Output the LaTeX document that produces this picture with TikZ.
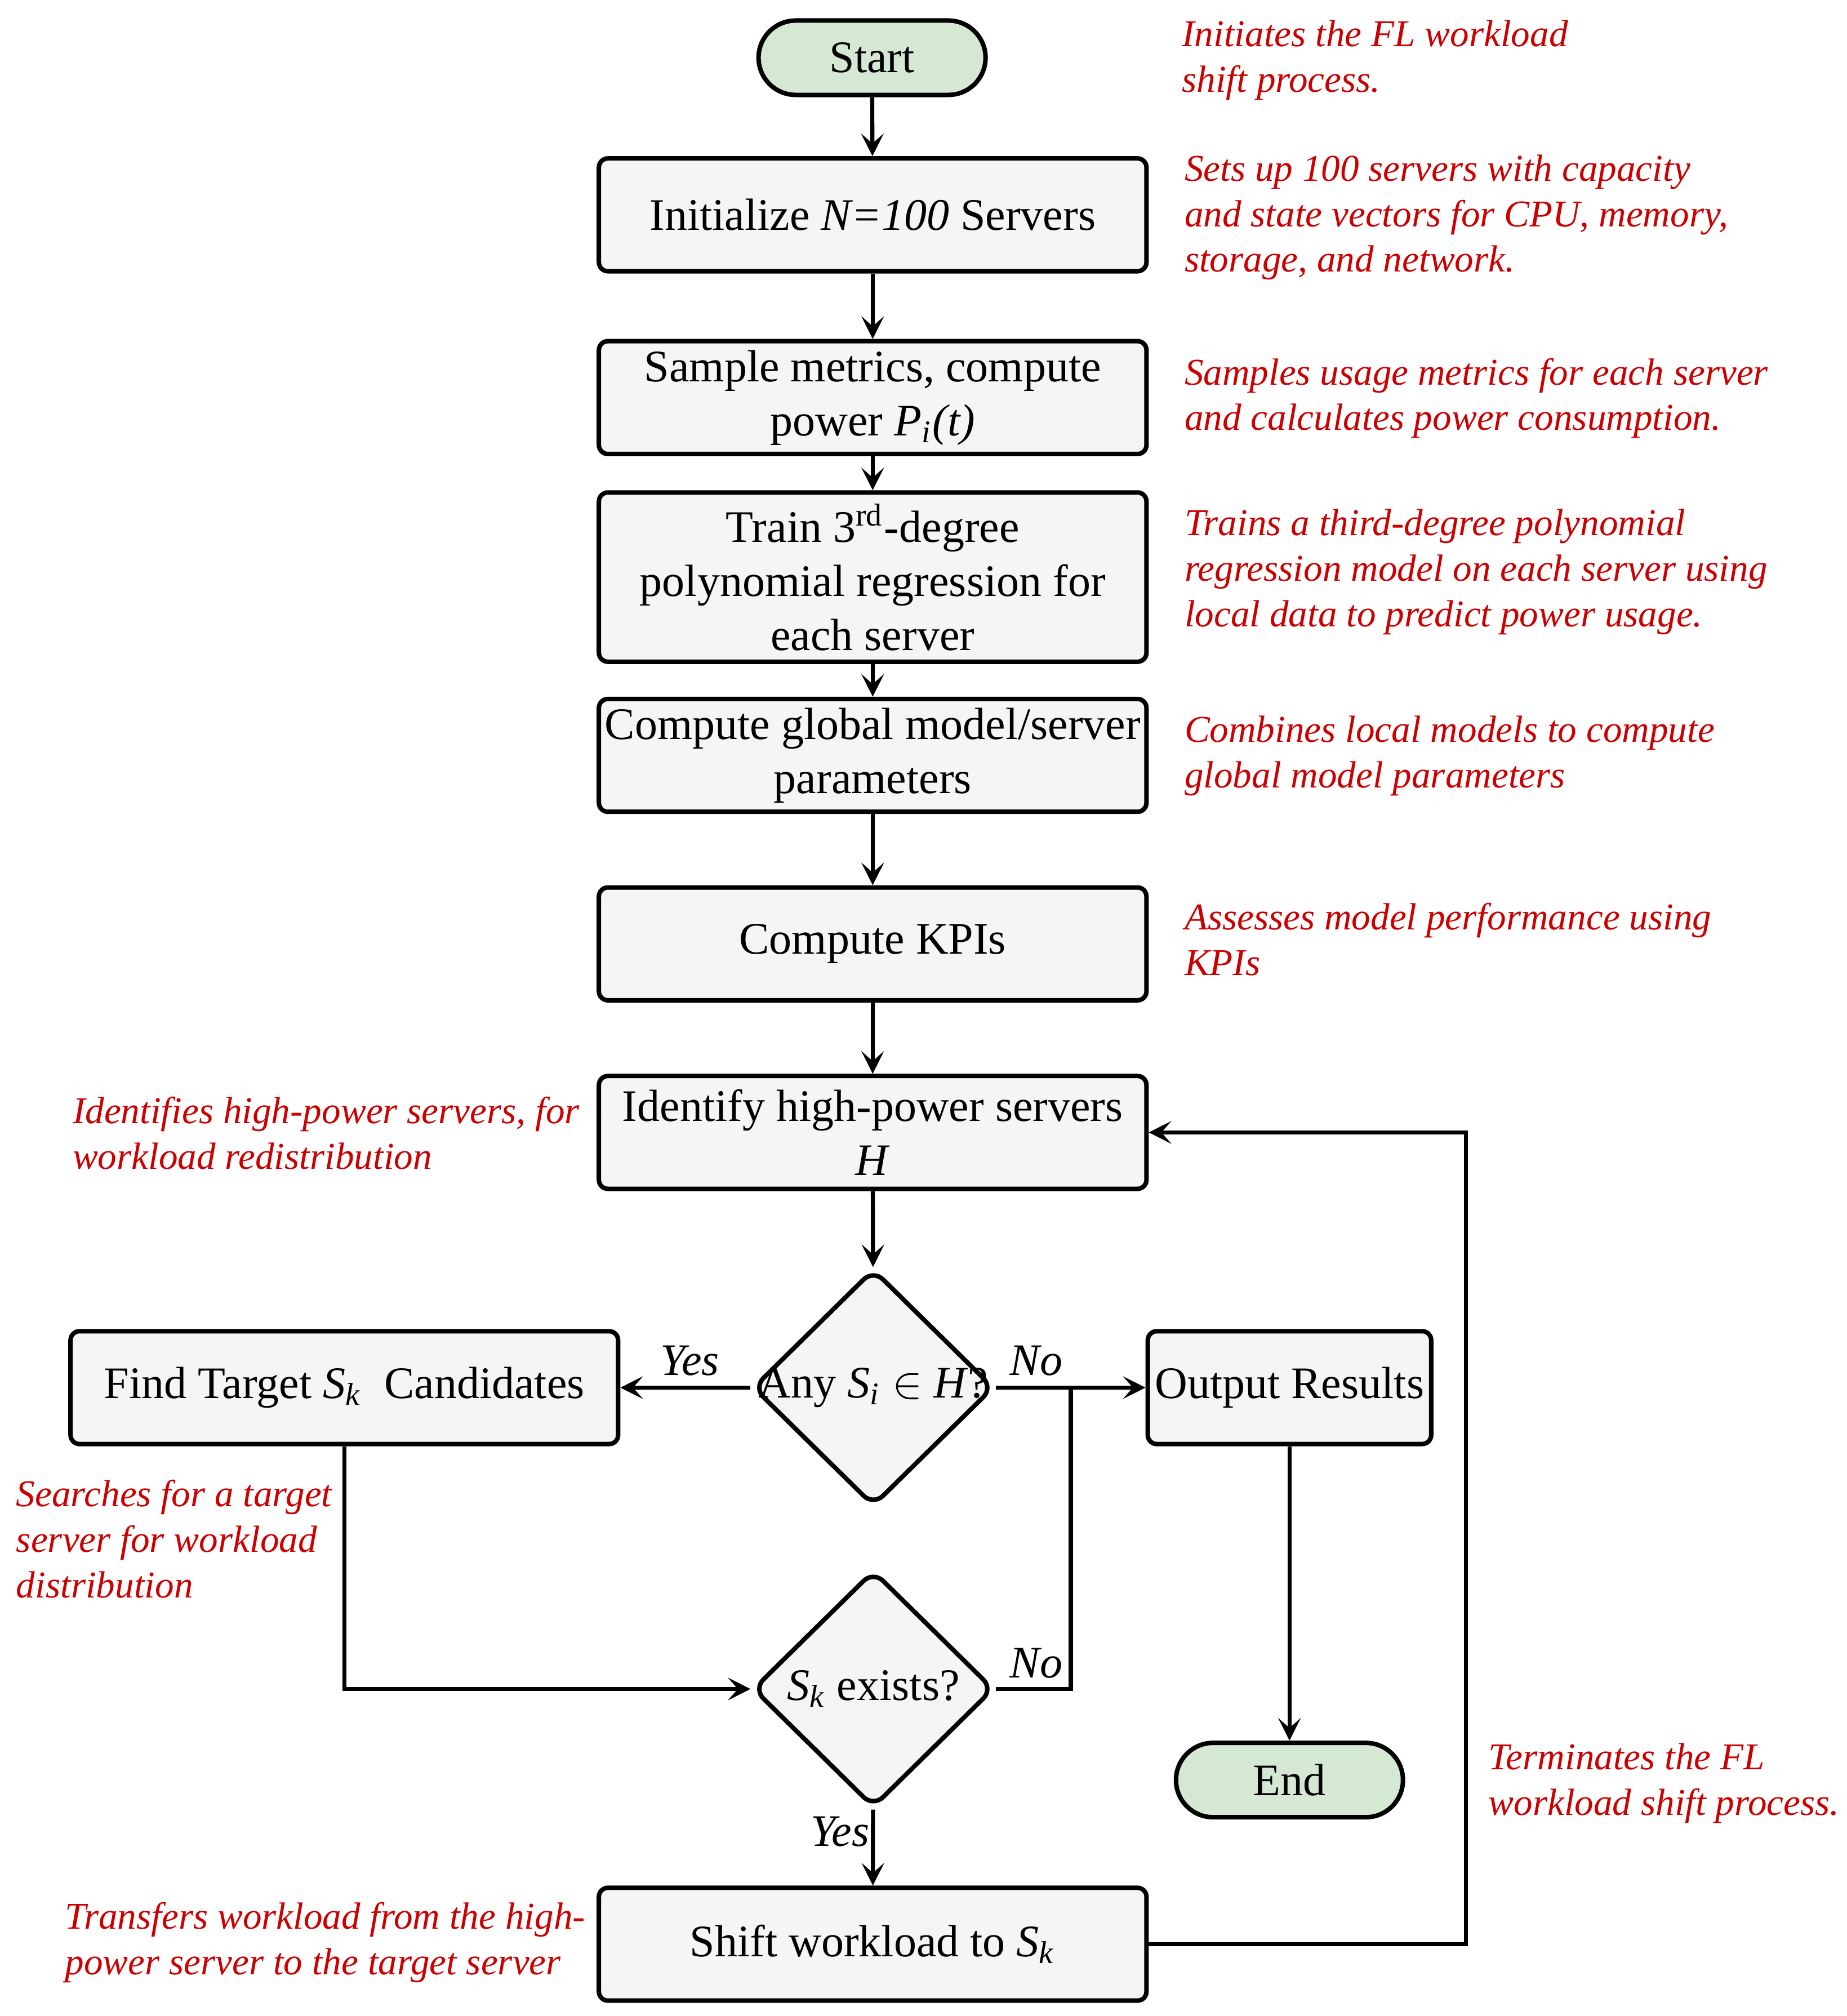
\documentclass[tikz,border=0pt]{standalone}
\usepackage{fontspec}
\setmainfont{Liberation Serif}
\usetikzlibrary{shapes.geometric,arrows.meta}

\definecolor{boxgray}{HTML}{F5F5F5}
\definecolor{termgreen}{HTML}{D5E8D4}
\definecolor{notered}{HTML}{CC0000}
\newcommand{\sub}[2]{\textit{#1\textsubscript{#2}}}

\tikzset{
  proc/.style={draw, line width=1pt, fill=boxgray, rounded corners=2pt,
    minimum width=4.27cm, minimum height=0.88cm, align=center, inner sep=0.5pt,
    font=\fontsize{10}{12}\selectfont},
  term/.style={draw, line width=1pt, fill=termgreen, rounded corners=0.29cm,
    minimum width=1.77cm, minimum height=0.58cm, inner sep=0pt,
    font=\fontsize{10}{12}\selectfont},
  decision/.style={draw, diamond, line width=1pt, fill=boxgray, rounded corners=3pt,
    minimum width=1.88cm, minimum height=1.85cm, inner sep=0pt,
    label={[font=\fontsize{10}{12}\selectfont]center:{#1}}},
  note/.style={anchor=west, align=left, inner sep=0pt, text=notered,
    font=\fontsize{8.4}{10.1}\selectfont\itshape},
  yn/.style={inner sep=0pt, font=\fontsize{10}{12}\selectfont\itshape},
  arr/.style={line width=0.9pt, -{Stealth[length=5pt,width=5pt,inset=2.2pt]}},
  line/.style={line width=0.9pt}
}

\begin{document}
\begin{tikzpicture}
  \useasboundingbox (0,0) rectangle (14.40,-15.72);

  \begin{scope}[shift={(0.03,-0.03)}]
  % main column
  \node[term] (start) at (6.77,-0.42) {Start};
  \node[proc] (init) at (6.775,-1.645) {Initialize \textit{N=100} Servers};
  \node[proc] (sample) at (6.775,-3.07) {Sample metrics, compute\\power \sub{P}{i}\textit{(t)}};
  \node[proc, minimum height=1.32cm] (train) at (6.775,-4.47)
    {Train 3\textsuperscript{rd}-degree\\polynomial regression for\\each server};
  \node[proc] (global) at (6.775,-5.86) {Compute global model/server\\parameters};
  \node[proc] (kpi) at (6.775,-7.33) {Compute KPIs};
  \node[proc] (identify) at (6.775,-8.80) {Identify high-power servers\\\textit{H}};
  \node[decision={Any \sub{S}{i} $\in$ \textit{H}?}] (any) at (6.78,-10.79) {};
  \node[proc] (find) at (2.655,-10.79) {Find Target \sub{S}{k}\ \ Candidates};
  \node[proc, minimum width=2.21cm] (output) at (10.025,-10.79) {Output Results};
  \node[decision={\sub{S}{k} exists?}] (exists) at (6.78,-13.14) {};
  \node[term] (stop) at (10.025,-13.85) {End};
  \node[proc] (shift) at (6.775,-15.13) {Shift workload to \sub{S}{k}};

  \coordinate (join) at (8.32,-10.79);
  \coordinate (back) at (11.40,-8.80);

  \draw[arr] (start) -- (init);
  \draw[arr] (init) -- (sample);
  \draw[arr] (sample) -- (train);
  \draw[arr] (train) -- (global);
  \draw[arr] (global) -- (kpi);
  \draw[arr] (kpi) -- (identify);
  \draw[arr] (identify) -- (any);
  \draw[arr] (any) -- (find);
  \draw[arr] (any) -- (output);
  \draw[arr] (find.south) |- (exists.west);
  \draw[line] (exists.east) -| (join);
  \draw[arr] (exists) -- (shift);
  \draw[arr] (output) -- (stop);
  \draw[arr] (shift.east) -| (back) -- (identify.east);

  \node[yn] (yes1) at (5.35,-10.58) {Yes};
  \node[yn] (no1) at (8.05,-10.58) {No};
  \node[yn] (no2) at (8.05,-12.94) {No};
  \node[yn] (yes2) at (6.52,-14.25) {Yes};
  \end{scope}

  % annotations
  \node[note] (n-start) at (9.21,-0.47) {Initiates the FL workload\\shift process.};
  \node[note] (n-init) at (9.23,-1.695) {Sets up 100 servers with capacity\\and state vectors for CPU, memory,\\storage, and network.};
  \node[note] (n-sample) at (9.23,-3.105) {Samples usage metrics for each server\\and calculates power consumption.};
  \node[note] (n-train) at (9.23,-4.46) {Trains a third-degree polynomial\\regression model on each server using\\local data to predict power usage.};
  \node[note] (n-global) at (9.23,-5.895) {Combines local models to compute\\global model parameters};
  \node[note] (n-kpi) at (9.23,-7.325) {Assesses model performance using\\KPIs};
  \node[note] (n-identify) at (0.56,-8.835) {Identifies high-power servers, for\\workload redistribution};
  \node[note] (n-find) at (0.12,-12.00) {Searches for a target\\server for workload\\distribution};
  \node[note] (n-stop) at (11.60,-13.905) {Terminates the FL\\workload shift process.};
  \node[note] (n-shift) at (0.50,-15.145) {Transfers workload from the high-\\power server to the target server};
\end{tikzpicture}
\end{document}
